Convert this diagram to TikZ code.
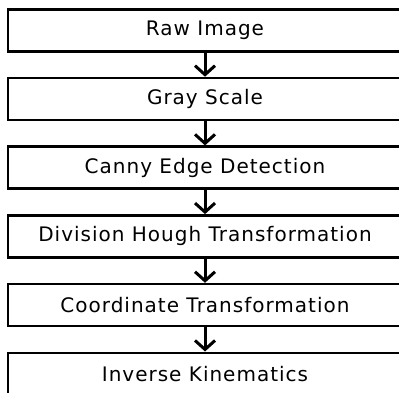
\documentclass[tikz,border=0pt]{standalone}
\usepackage{fontspec}
\setmainfont[LetterSpace=5]{DejaVu Sans}
\usepackage{tikz}
\usetikzlibrary{arrows.meta,positioning}

\begin{document}
\begin{tikzpicture}[font=\fontsize{20}{24}\selectfont,
  stepbox/.style={draw=black, line width=2.6pt, fill=white,
                  minimum width=394pt, minimum height=42pt, inner sep=0pt},
  arr/.style={-{Straight Barb[length=9pt,width=20pt]}, line width=3pt}]
\clip (0,0) rectangle (399pt,-393pt);
\useasboundingbox (0,0) rectangle (399pt,-393pt);
\node[stepbox] (raw) at (205pt,-30.3pt) {Raw Image};
\node[stepbox, below=24.1pt of raw] (gray) {Gray Scale};
\node[stepbox, below=24.1pt of gray] (canny) {Canny Edge Detection};
\node[stepbox, below=24.1pt of canny] (hough) {Division Hough Transformation};
\node[stepbox, below=24.1pt of hough] (coord) {Coordinate Transformation};
\node[stepbox, below=24.1pt of coord] (ik) {Inverse Kinematics};
\draw[arr] (raw) -- (gray);
\draw[arr] (gray) -- (canny);
\draw[arr] (canny) -- (hough);
\draw[arr] (hough) -- (coord);
\draw[arr] (coord) -- (ik);
\end{tikzpicture}
\end{document}
